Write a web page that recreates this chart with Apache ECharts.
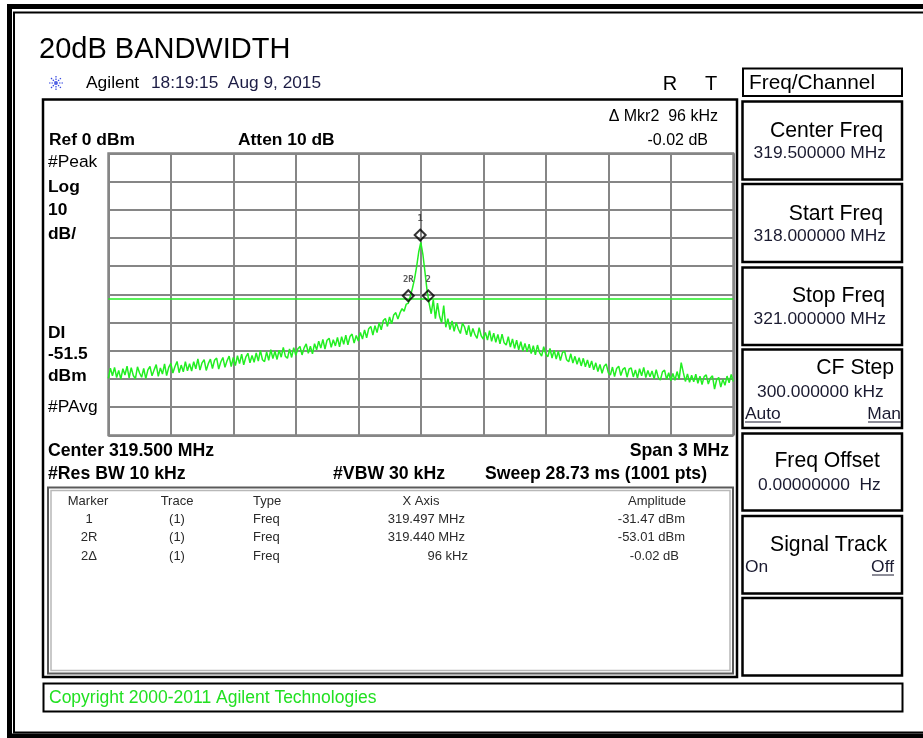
<!DOCTYPE html>
<html>
<head>
<meta charset="utf-8">
<script src="https://cdn.jsdelivr.net/npm/echarts@6/dist/echarts.min.js"></script>
<style>
html,body{margin:0;padding:0;background:#fff;}
#chart{width:923px;height:738px;}
</style>
</head>
<body>
<div id="chart"></div>
<script>
// ---- Data ----
var sweepStartMHz = 318.0;
var sweepStopMHz = 321.0;
var sweepStepMHz = 0.01;
var traceLevels = [
-79.8,-76.2,-78.9,-75.9,-79.5,-77.0,-80.1,-76.4,-78.6,-75.5,
-79.6,-76.0,-78.8,-80.0,-75.7,-77.9,-79.4,-76.3,-79.9,-76.8,
-75.6,-78.9,-76.8,-74.9,-79.1,-76.1,-78.3,-74.7,-78.8,-75.9,
-74.5,-77.9,-75.6,-73.8,-77.8,-75.1,-77.5,-73.9,-77.1,-74.6,
-77.2,-73.9,-76.4,-72.9,-76.9,-74.3,-73.2,-77.0,-74.6,-73.0,
-76.3,-73.4,-72.6,-76.5,-74.0,-72.4,-75.9,-73.6,-71.9,-75.6,
-72.4,-75.3,-71.8,-74.6,-71.2,-75.0,-72.3,-70.9,-74.3,-71.7,
-74.1,-70.8,-73.7,-69.9,-73.2,-73.9,-70.4,-73.4,-69.6,-72.8,
-70.2,-73.1,-69.8,-72.3,-68.8,-72.0,-72.7,-69.4,-72.4,-68.9,
-71.6,-69.3,-68.5,-71.5,-69.0,-67.6,-70.9,-68.4,-71.1,-67.5,
-69.7,-66.6,-69.1,-66.0,-69.4,-66.3,-65.6,-68.8,-66.1,-68.3,
-65.3,-68.6,-65.0,-67.7,-64.5,-67.9,-65.0,-64.1,-67.3,-64.6,
-66.6,-63.5,-65.9,-62.6,-65.4,-62.2,-61.4,-64.5,-61.1,-63.6,
-60.1,-62.6,-59.3,-58.6,-61.4,-58.0,-60.5,-57.3,-56.5,-58.8,
-56.6,-55.1,-56.0,-53.5,-53.2,-50.6,-47.8,-44.5,-40.2,-35.0,
-31.6,
-35.8,-42.1,-48.6,-53.2,-56.9,-51.9,-58.6,-53.1,-57.8,-60.1,
-54.0,-61.7,-58.6,-62.5,-59.4,-63.1,-60.0,-62.3,-63.9,-60.2,
-61.6,-64.4,-61.0,-65.0,-62.1,-64.3,-65.6,-61.8,-64.7,-65.9,
-63.5,-66.2,-62.9,-66.7,-63.8,-67.0,-64.2,-67.6,-64.1,-67.2,
-68.0,-65.0,-68.7,-65.8,-69.2,-66.3,-69.7,-66.8,-70.1,-67.4,
-70.4,-67.7,-71.0,-68.2,-71.5,-68.0,-70.7,-71.9,-68.6,-71.3,
-72.1,-69.2,-72.6,-69.8,-73.0,-70.2,-73.5,-70.7,-70.1,-73.2,
-73.9,-71.1,-74.4,-72.0,-74.8,-72.5,-75.4,-72.7,-75.7,-73.3,
-76.1,-73.6,-76.8,-74.3,-77.4,-74.9,-78.0,-75.5,-74.7,-77.8,
-78.6,-75.8,-79.2,-76.3,-75.5,-78.8,-76.6,-76.0,-79.4,-76.5,
-76.1,-79.3,-76.8,-79.7,-76.4,-78.9,-75.9,-79.5,-77.0,-79.2,
-77.2,-80.0,-76.7,-79.6,-80.4,-77.5,-76.9,-80.2,-77.8,-80.7,
-78.1,-80.5,-77.4,-80.1,-74.2,-77.7,-80.9,-78.2,-81.2,-78.7,
-81.0,-78.3,-81.6,-79.0,-82.0,-79.2,-78.6,-81.8,-79.7,-78.9,
-83.6,-80.3,-79.5,-82.9,-80.1,-82.3,-79.0,-81.4,-78.4,-80.9
];
var refLevel = 0;
var dbPerDiv = 10;
var displayLine = -51.5;
var freqGridStep = 0.3;

var markerNames = ['1', '2R', '2\u0394'];
var markerLabels = ['1', '2R', '2'];
var markerTrace = ['(1)', '(1)', '(1)'];
var markerType = ['Freq', 'Freq', 'Freq'];
var markerRefFreq = 319.440;   // MHz
var markerRefAmp = -53.01;     // dBm
var marker1Freq = 319.497;     // MHz
var marker1Amp = -31.47;       // dBm
var deltaFreqKHz = 96;
var deltaAmpDB = -0.02;
var markerXText = ['319.497 MHz', '319.440 MHz', '96 kHz'];
var markerAmpText = ['-31.47 dBm', '-53.01 dBm', '-0.02 dB'];

// ---- Build ----
var traceData = traceLevels.map(function (v, i) {
  return [+(sweepStartMHz + i * sweepStepMHz).toFixed(3), v];
});
var markerPoints = [
  [marker1Freq, marker1Amp],
  [markerRefFreq, markerRefAmp],
  [+(markerRefFreq + deltaFreqKHz / 1000).toFixed(3), +(markerRefAmp + deltaAmpDB).toFixed(2)]
];

var FF = '"Liberation Sans", Arial, Helvetica, sans-serif';
function txt(x, y, s, size, align, weight, color) {
  return {
    type: 'text', x: x, y: y, z: 50,
    style: {
      text: s,
      font: (weight || 'normal') + ' ' + size + 'px ' + FF,
      fill: color || '#000',
      align: align || 'left', textAlign: align || 'left',
      verticalAlign: 'middle', textVerticalAlign: 'middle'
    }
  };
}
function rect(x, y, w, h, stroke, lw) {
  return { type: 'rect', z: 40, shape: { x: x, y: y, width: w, height: h },
    style: { fill: 'none', stroke: stroke, lineWidth: lw } };
}
function line(x1, y1, x2, y2, stroke, lw, dash) {
  return { type: 'line', z: 40, shape: { x1: x1, y1: y1, x2: x2, y2: y2 },
    style: { stroke: stroke, lineWidth: lw, lineDash: dash || null } };
}

var G = [];
// outer frame
G.push(rect(9.5, 6.5, 1000, 729.5, '#000', 5));
G.push(rect(14, 12.5, 1000, 720, '#000', 2));
// title
G.push(txt(39, 50, '20dB BANDWIDTH', 29));
// agilent logo
var lc = [56, 83], lr = 7, logoCol = '#3346e0';
G.push(line(lc[0] - lr, lc[1], lc[0] + lr, lc[1], logoCol, 1.2, [1.5, 1]));
G.push(line(lc[0], lc[1] - lr, lc[0], lc[1] + lr, logoCol, 1.2, [1.5, 1]));
G.push(line(lc[0] - 5, lc[1] - 5, lc[0] + 5, lc[1] + 5, logoCol, 1.2, [1.5, 1]));
G.push(line(lc[0] - 5, lc[1] + 5, lc[0] + 5, lc[1] - 5, logoCol, 1.2, [1.5, 1]));
G.push(txt(86, 83, 'Agilent', 17.4));
G.push(txt(151, 83, '18:19:15  Aug 9, 2015', 17.3, 'left', 'normal', '#1c1c44'));
G.push(txt(670, 84.5, 'R', 20, 'center'));
G.push(txt(711, 84.5, 'T', 20, 'center'));
// display frame
G.push(rect(43, 99.5, 694, 577.5, '#000', 2.5));
G.push(txt(718, 116.5, '\u0394 Mkr2  96 kHz', 16, 'right'));
G.push(txt(708, 141, '-0.02 dB', 16, 'right'));
G.push(txt(49, 140.5, 'Ref 0 dBm', 17.4, 'left', 'bold'));
G.push(txt(238, 140.5, 'Atten 10 dB', 17.4, 'left', 'bold'));
// left labels
G.push(txt(48, 162, '#Peak', 17.4));
G.push(txt(48, 187.5, 'Log', 17.4, 'left', 'bold'));
G.push(txt(48, 210.5, '10', 17.4, 'left', 'bold'));
G.push(txt(48, 234, 'dB/', 17.4, 'left', 'bold'));
G.push(txt(48, 333, 'DI', 17.4, 'left', 'bold'));
G.push(txt(48, 354.5, '-51.5', 17.4, 'left', 'bold'));
G.push(txt(48, 376, 'dBm', 17.4, 'left', 'bold'));
G.push(txt(48, 407.5, '#PAvg', 17.4));
// below grid
G.push(txt(48, 451, 'Center 319.500 MHz', 17.7, 'left', 'bold'));
G.push(txt(729, 451, 'Span 3 MHz', 17.7, 'right', 'bold'));
G.push(txt(48, 474, '#Res BW 10 kHz', 17.7, 'left', 'bold'));
G.push(txt(333, 474, '#VBW 30 kHz', 17.7, 'left', 'bold'));
G.push(txt(485, 474, 'Sweep 28.73 ms (1001 pts)', 17.6, 'left', 'bold'));
// marker table
G.push(rect(48, 487.5, 685, 186, '#5a5a5a', 2));
G.push(rect(51, 490.5, 679, 180, '#b8b8b8', 1.5));
var tf = 13, tc = '#2a2a2a';
G.push(txt(88, 501, 'Marker', tf, 'center', 'normal', tc));
G.push(txt(177, 501, 'Trace', tf, 'center', 'normal', tc));
G.push(txt(253, 501, 'Type', tf, 'left', 'normal', tc));
G.push(txt(421, 501, 'X Axis', tf, 'center', 'normal', tc));
G.push(txt(657, 501, 'Amplitude', tf, 'center', 'normal', tc));
var rowY = [519, 537.5, 556];
for (var r = 0; r < markerNames.length; r++) {
  G.push(txt(89, rowY[r], markerNames[r], tf, 'center', 'normal', tc));
  G.push(txt(177, rowY[r], markerTrace[r], tf, 'center', 'normal', tc));
  G.push(txt(253, rowY[r], markerType[r], tf, 'left', 'normal', tc));
  G.push(txt(r === 2 ? 468 : 465, rowY[r], markerXText[r], tf, 'right', 'normal', tc));
  G.push(txt(r === 2 ? 679 : 685, rowY[r], markerAmpText[r], tf, 'right', 'normal', tc));
}
// softkeys
G.push(rect(743, 68.5, 159, 27.5, '#000', 2));
G.push(txt(749, 83.5, 'Freq/Channel', 20.8));
var keyTop = [101.5, 184, 267.5, 349.5, 433.5, 516, 598];
var keyBot = [179.5, 262, 345, 428, 510.5, 593.5, 675.5];
for (var k = 0; k < keyTop.length; k++) {
  G.push(rect(742.5, keyTop[k], 159.5, keyBot[k] - keyTop[k], '#000', 2.5));
}
var kc = '#1a1a30', kt = 21.2, kv = 17.4;
G.push(txt(883, 131, 'Center Freq', kt, 'right'));
G.push(txt(886, 153.5, '319.500000 MHz', kv, 'right', 'normal', kc));
G.push(txt(883, 214, 'Start Freq', kt, 'right'));
G.push(txt(886, 236.5, '318.000000 MHz', kv, 'right', 'normal', kc));
G.push(txt(885, 296, 'Stop Freq', kt, 'right'));
G.push(txt(886, 319, '321.000000 MHz', kv, 'right', 'normal', kc));
G.push(txt(894, 368, 'CF Step', kt, 'right'));
G.push(txt(757, 392, '300.000000 kHz', kv, 'left', 'normal', kc));
G.push(txt(745, 414, 'Auto', kv, 'left', 'normal', kc));
G.push(line(745, 422, 781, 422, kc, 1));
G.push(txt(901, 414, 'Man', kv, 'right', 'normal', kc));
G.push(line(868, 422, 901, 422, kc, 1));
G.push(txt(880, 461, 'Freq Offset', kt, 'right'));
G.push(txt(758, 485.5, '0.00000000  Hz', kv, 'left', 'normal', kc));
G.push(txt(887, 545, 'Signal Track', kt, 'right'));
G.push(txt(745, 567, 'On', kv, 'left', 'normal', kc));
G.push(txt(894, 567, 'Off', kv, 'right', 'normal', kc));
G.push(line(872, 575, 894, 575, kc, 1));
// copyright
G.push(rect(43.5, 683.5, 859, 28, '#000', 2));
G.push(txt(49, 698, 'Copyright 2000-2011 Agilent Technologies', 17.5, 'left', 'normal', '#22e022'));

var chart = echarts.init(document.getElementById('chart'), null, { renderer: 'canvas' });
chart.setOption({
  animation: false,
  backgroundColor: '#fff',
  grid: { left: 108.3, top: 153.3, width: 625, height: 282, show: true, borderColor: '#808080', borderWidth: 2, containLabel: false },
  xAxis: {
    type: 'value', min: sweepStartMHz, max: sweepStopMHz, interval: freqGridStep,
    axisLabel: { show: false }, axisTick: { show: false }, axisLine: { show: false },
    splitLine: { show: true, lineStyle: { color: '#868686', width: 2 } }
  },
  yAxis: {
    type: 'value', min: refLevel - 10 * dbPerDiv, max: refLevel, interval: dbPerDiv,
    axisLabel: { show: false }, axisTick: { show: false }, axisLine: { show: false },
    splitLine: { show: true, lineStyle: { color: '#868686', width: 2 } }
  },
  series: [
    {
      type: 'line', data: traceData, showSymbol: false, symbol: 'none',
      lineStyle: { color: '#22ee22', width: 1.5 }, z: 3,
      markLine: {
        silent: true, symbol: 'none', label: { show: false },
        lineStyle: { color: '#22ee22', width: 1.5, type: 'solid' },
        data: [{ yAxis: displayLine }]
      }
    },
    {
      type: 'scatter', data: markerPoints, symbol: 'diamond', symbolSize: [11, 11],
      symbolOffset: [0, -7], z: 5,
      itemStyle: { color: 'rgba(255,255,255,0)', borderColor: '#000', borderWidth: 2 },
      label: {
        show: true, position: 'top', distance: 5,
        formatter: function (p) { return markerLabels[p.dataIndex]; },
        fontSize: 9, fontWeight: 'bold', color: '#333', fontFamily: 'DejaVu Sans Mono, monospace'
      }
    }
  ],
  graphic: { elements: G }
});
</script>
</body>
</html>
